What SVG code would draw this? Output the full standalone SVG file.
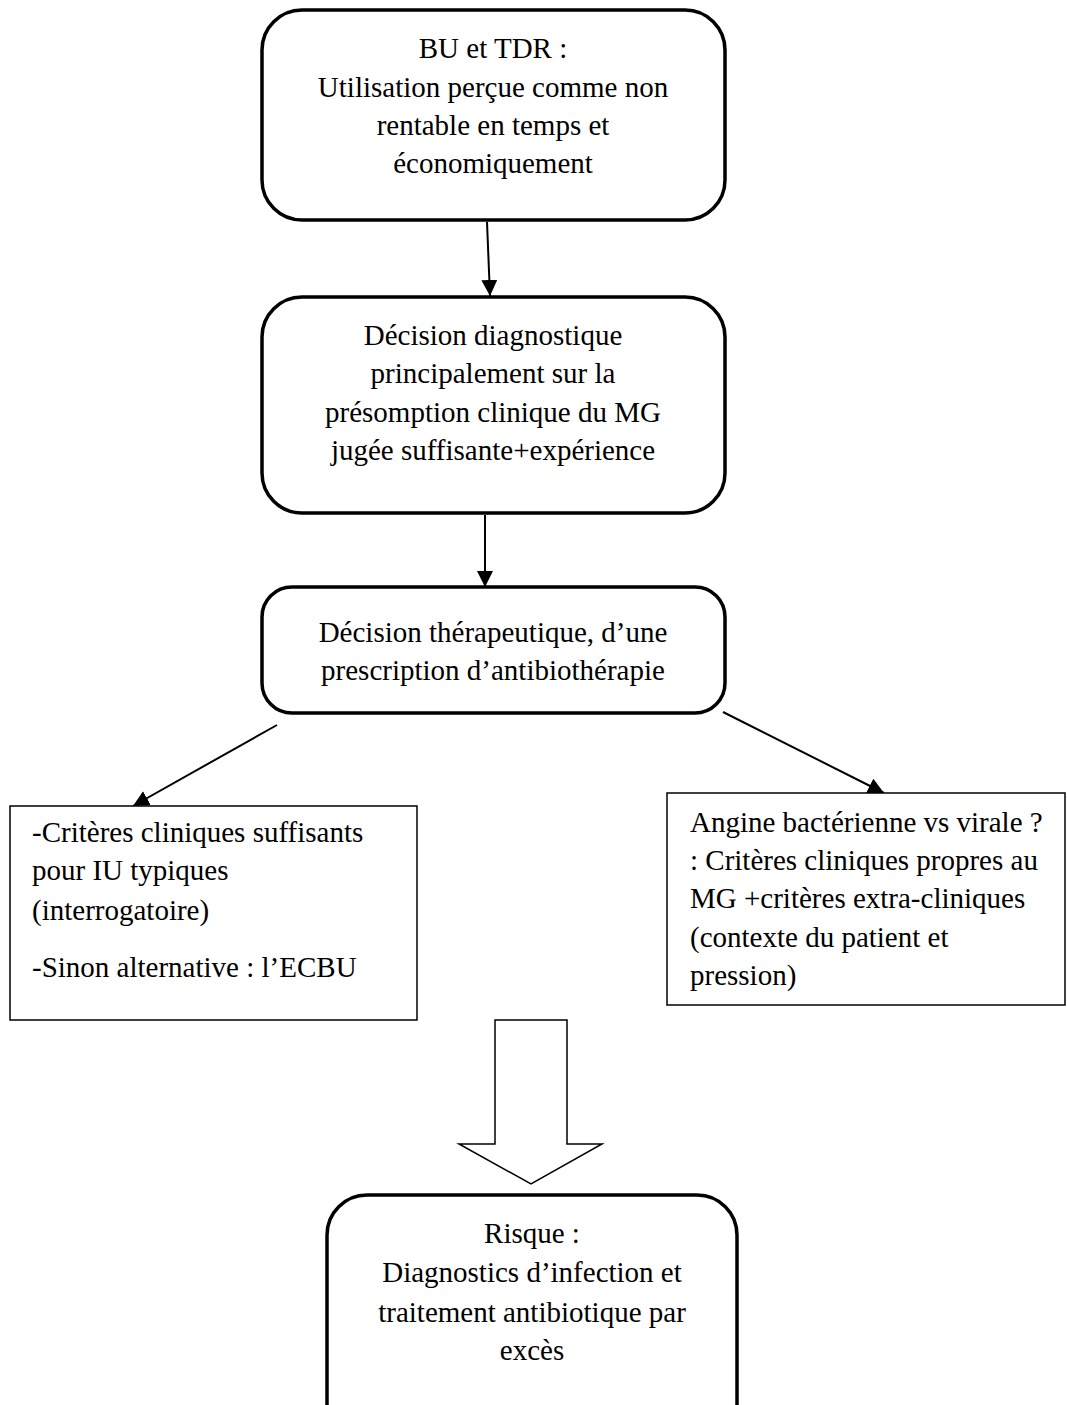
<svg xmlns="http://www.w3.org/2000/svg" width="1067" height="1405" viewBox="0 0 1067 1405">
<style>
.rb{fill:#fff;stroke:#000;stroke-width:3.5}
.sb{fill:#fff;stroke:#000;stroke-width:1.5}
.t{font-family:"Liberation Serif","Times New Roman",serif;font-size:29px;fill:#000}
.c{text-anchor:middle}
.ln{stroke:#000;stroke-width:2;fill:none}
</style>
<defs>
<marker id="ah" viewBox="0 0 10 10" refX="10" refY="5" markerWidth="8" markerHeight="8" markerUnits="userSpaceOnUse" orient="auto">
<path d="M0,0 L10,5 L0,10 Z" fill="#000"/>
</marker>
<marker id="ah2" viewBox="0 0 10 10" refX="10" refY="5" markerWidth="8" markerHeight="8" orient="auto">
<path d="M0,0 L10,5 L0,10 Z" fill="#000"/>
</marker>
</defs>
<rect width="1067" height="1405" fill="#fff"/>
<g id="connectors">
<line class="ln" x1="487" y1="222" x2="490" y2="296" marker-end="url(#ah2)"/>
<line class="ln" x1="485" y1="515" x2="485" y2="587" marker-end="url(#ah2)"/>
<line class="ln" x1="277" y1="725" x2="133" y2="806" marker-end="url(#ah2)"/>
<line class="ln" x1="723" y1="712" x2="884" y2="793" marker-end="url(#ah2)"/>
<path id="bigarrow" d="M495,1020 L567,1020 L567,1144 L602,1144 L531,1184 L459,1144 L495,1144 Z" fill="#fff" stroke="#000" stroke-width="1.5"/>
</g>
<g id="n1">
<rect class="rb" x="262" y="10" width="463" height="210" rx="40"/>
<text class="t c" x="493" y="58">BU et TDR :</text>
<text class="t c" x="493" y="97">Utilisation perçue comme non</text>
<text class="t c" x="493" y="135">rentable en temps et</text>
<text class="t c" x="493" y="173">économiquement</text>
</g>
<g id="n2">
<rect class="rb" x="262" y="297" width="463" height="216" rx="40"/>
<text class="t c" x="493" y="345">Décision diagnostique</text>
<text class="t c" x="493" y="383">principalement sur la</text>
<text class="t c" x="493" y="422">présomption clinique du MG</text>
<text class="t c" x="493" y="460">jugée suffisante+expérience</text>
</g>
<g id="n3">
<rect class="rb" x="262" y="587" width="463" height="126" rx="30"/>
<text class="t c" x="493" y="642">Décision thérapeutique, d’une</text>
<text class="t c" x="493" y="680">prescription d’antibiothérapie</text>
</g>
<g id="n4">
<rect class="sb" x="10" y="806" width="407" height="214"/>
<text class="t" x="32" y="842">-Critères cliniques suffisants</text>
<text class="t" x="32" y="880">pour IU typiques</text>
<text class="t" x="32" y="920">(interrogatoire)</text>
<text class="t" x="32" y="977">-Sinon alternative : l’ECBU</text>
</g>
<g id="n5">
<rect class="sb" x="667" y="793" width="398" height="212"/>
<text class="t" x="690" y="832">Angine bactérienne vs virale ?</text>
<text class="t" x="690" y="870">: Critères cliniques propres au</text>
<text class="t" x="690" y="908">MG +critères extra-cliniques</text>
<text class="t" x="690" y="947">(contexte du patient et</text>
<text class="t" x="690" y="985">pression)</text>
</g>
<g id="n6">
<rect class="rb" x="327" y="1195" width="410" height="260" rx="40"/>
<text class="t c" x="532" y="1243">Risque :</text>
<text class="t c" x="532" y="1282">Diagnostics d’infection et</text>
<text class="t c" x="532" y="1322">traitement antibiotique par</text>
<text class="t c" x="532" y="1360">excès</text>
</g>
</svg>
